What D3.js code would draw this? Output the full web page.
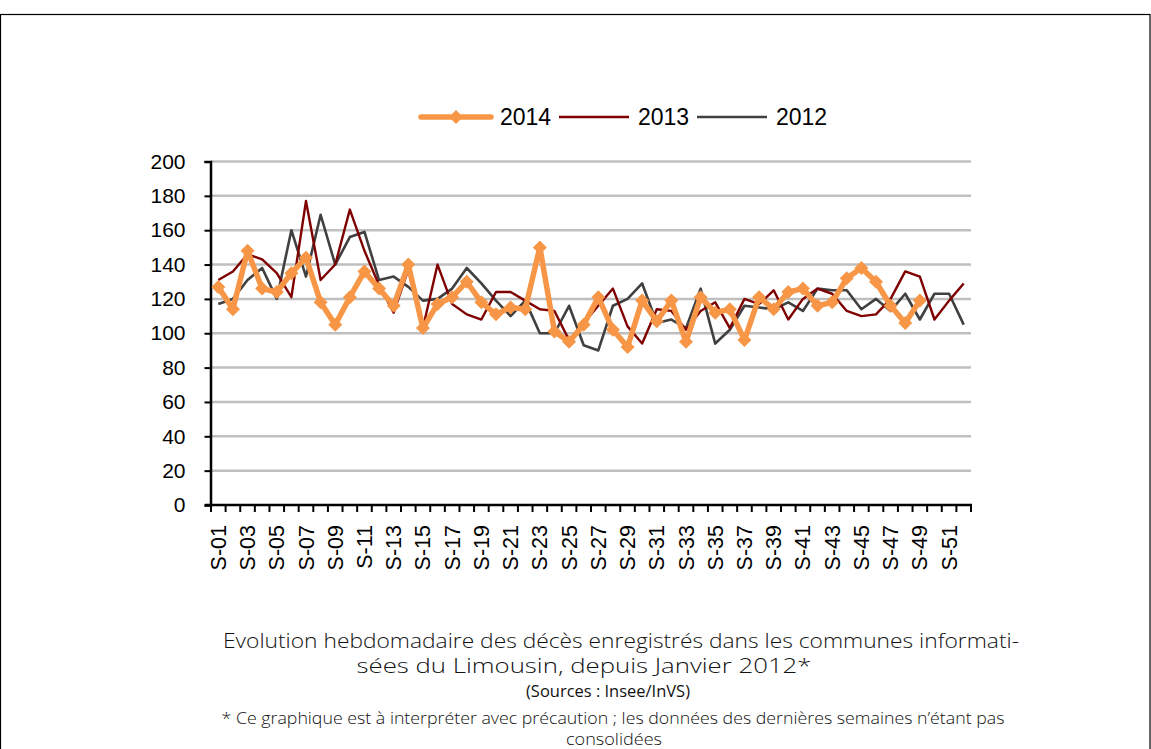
<!DOCTYPE html>
<html>
<head>
<meta charset="utf-8">
<script src="https://cdn.jsdelivr.net/npm/d3@7"></script>
<style>
  body { margin: 0; background: #fff; }
  svg { display: block; }
</style>
</head>
<body>
<script>
const weeks = ['S-01', 'S-02', 'S-03', 'S-04', 'S-05', 'S-06', 'S-07', 'S-08', 'S-09', 'S-10',
  'S-11', 'S-12', 'S-13', 'S-14', 'S-15', 'S-16', 'S-17', 'S-18', 'S-19', 'S-20',
  'S-21', 'S-22', 'S-23', 'S-24', 'S-25', 'S-26', 'S-27', 'S-28', 'S-29', 'S-30',
  'S-31', 'S-32', 'S-33', 'S-34', 'S-35', 'S-36', 'S-37', 'S-38', 'S-39', 'S-40',
  'S-41', 'S-42', 'S-43', 'S-44', 'S-45', 'S-46', 'S-47', 'S-48', 'S-49', 'S-50',
  'S-51', 'S-52']

const deaths2014 = [127, 114, 148, 126, 124, 135, 144, 118, 105, 121,
  136, 126, 116, 140, 103, 117, 121, 130, 118, 111,
  115, 114, 150, 101, 95, 105, 121, 102, 92, 119,
  107, 119, 95, 121, 112, 114, 96, 121, 114, 124,
  126, 116, 118, 132, 138, 130, 116, 106, 119]

const deaths2013 = [131, 136, 146, 143, 135, 121, 177, 131, 140, 172,
  148, 128, 112, 137, 103, 140, 117, 111, 108, 124,
  124, 119, 114, 113, 96, 106, 116, 126, 104, 94,
  114, 113, 102, 113, 118, 103, 120, 117, 125, 108,
  120, 126, 123, 113, 110, 111, 120, 136, 133, 108,
  119, 129]

const deaths2012 = [117, 120, 131, 138, 120, 160, 133, 169, 140, 156,
  159, 131, 133, 127, 119, 120, 126, 138, 129, 119,
  110, 119, 100, 100, 116, 93, 90, 116, 120, 129,
  106, 108, 103, 126, 94, 102, 116, 115, 114, 118,
  113, 126, 125, 125, 114, 120, 113, 123, 108, 123,
  123, 105]

const yTicks = [0, 20, 40, 60, 80, 100, 120, 140, 160, 180, 200]
const seriesNames = ['2014', '2013', '2012']
const seriesData = [deaths2014, deaths2013, deaths2012]
const seriesColors = ['#F79646', '#7F0000', '#404040']

const captionLines = [
  'Evolution hebdomadaire des décès enregistrés dans les communes informati-',
  'sées du Limousin, depuis Janvier  2012*'
]
const sourceLine = '(Sources : Insee/InVS)'
const noteLines = [
  '* Ce graphique est à interpréter avec précaution ; les données des dernières semaines n\u2019étant pas',
  'consolidées'
]

const width = 1151
const height = 749
const plot = { left: 211, right: 971, top: 161.5, bottom: 505 }

const svg = d3.select('body').append('svg')
  .attr('width', width)
  .attr('height', height)

// frame
svg.append('rect')
  .attr('x', 0.5).attr('y', 14.5)
  .attr('width', width - 1.5).attr('height', height)
  .attr('fill', 'none')
  .attr('stroke', '#000')
  .attr('stroke-width', 1.2)

const x = d3.scaleBand().domain(weeks).range([plot.left, plot.right])
const xc = d => x(d) + x.bandwidth() / 2
const y = d3.scaleLinear().domain([0, 200]).range([plot.bottom, plot.top])

// gridlines
svg.append('g')
  .selectAll('line')
  .data(yTicks.slice(1))
  .join('line')
    .attr('x1', plot.left)
    .attr('x2', plot.right)
    .attr('y1', d => y(d))
    .attr('y2', d => y(d))
    .style('stroke', '#bfbfbf')
    .style('stroke-width', 2.5)

// y axis
const yAxis = svg.append('g')
  .attr('transform', `translate(${plot.left - 0.5},0)`)
  .call(d3.axisLeft(y).tickValues(yTicks).tickSize(6).tickPadding(19))
yAxis.select('.domain').attr('stroke', '#000').attr('stroke-width', 2.5)
yAxis.selectAll('.tick line').attr('stroke', '#000').attr('stroke-width', 2)
yAxis.selectAll('text')
  .style('font-family', 'Liberation Sans, Arial, sans-serif')
  .style('font-size', '21px')
  .attr('fill', '#000')

// x axis: ticks on category boundaries, labels on odd weeks
const xAxis = svg.append('g').attr('transform', `translate(0,${plot.bottom})`)
xAxis.append('line')
  .attr('x1', plot.left - 6).attr('x2', plot.right + 1)
  .attr('stroke', '#000').attr('stroke-width', 2.5)
xAxis.selectAll('line.tick')
  .data(weeks.concat(['end']))
  .join('line')
    .attr('class', 'tick')
    .attr('x1', (d, i) => plot.left + i * x.step())
    .attr('x2', (d, i) => plot.left + i * x.step())
    .attr('y1', 0).attr('y2', 7)
    .attr('stroke', '#000').attr('stroke-width', 2)
xAxis.selectAll('text')
  .data(weeks.filter((d, i) => i % 2 === 0))
  .join('text')
    .attr('transform', d => `translate(${xc(d) + 7.5},${20}) rotate(-90)`)
    .attr('text-anchor', 'end')
    .style('font-family', 'Liberation Sans, Arial, sans-serif')
    .style('font-size', '21.5px')
    .text(d => d)

// series lines
const line = d3.line()
  .x((d, i) => xc(weeks[i]))
  .y(d => y(d))

const diamond = 'M0,-7L7,0L0,7L-7,0Z'

// draw 2012 first, then 2013, then 2014 on top
;[2, 1, 0].forEach(k => {
  svg.append('path')
    .datum(seriesData[k])
    .attr('d', line)
    .attr('fill', 'none')
    .attr('stroke', seriesColors[k])
    .attr('stroke-width', k === 0 ? 5.5 : (k === 1 ? 2.4 : 2.6))
    .attr('stroke-linejoin', 'round')
  if (k === 0) {
    svg.append('g')
      .selectAll('path')
      .data(seriesData[k])
      .join('path')
        .attr('d', diamond)
        .attr('transform', (d, i) => `translate(${xc(weeks[i])},${y(d)})`)
        .attr('fill', seriesColors[k])
  }
})

// legend
const legendX = [421, 559, 697]
const legend = svg.append('g').attr('transform', 'translate(0,117)')
seriesNames.forEach((name, k) => {
  const g = legend.append('g').attr('transform', `translate(${legendX[k]},0)`)
  g.append('line')
    .attr('x1', 0).attr('x2', 70)
    .attr('stroke', seriesColors[k])
    .attr('stroke-width', k === 0 ? 5.5 : (k === 1 ? 2.4 : 2.6))
    .attr('stroke-linecap', k === 0 ? 'round' : 'butt')
  if (k === 0) {
    g.append('path').attr('d', diamond).attr('transform', 'translate(35,0)').attr('fill', seriesColors[k])
  }
  g.append('text')
    .attr('x', 79).attr('y', 8)
    .style('font-family', 'Liberation Sans, Arial, sans-serif')
    .style('font-size', '23px')
    .text(name)
})

// caption
const cap = svg.append('g')
  .style('font-family', 'Open Sans, sans-serif')
  .style('font-weight', 300)
  .attr('fill', '#111')
  .attr('text-anchor', 'middle')
cap.append('text').attr('x', 621).attr('y', 648).style('font-size', '20px')
  .attr('textLength', 796).attr('lengthAdjust', 'spacingAndGlyphs').text(captionLines[0])
cap.append('text').attr('x', 584).attr('y', 673).style('font-size', '20px')
  .attr('textLength', 455).attr('lengthAdjust', 'spacingAndGlyphs').text(captionLines[1])
cap.append('text').attr('x', 608).attr('y', 697).style('font-size', '17px')
  .style('font-weight', 500)
  .attr('textLength', 164).attr('lengthAdjust', 'spacingAndGlyphs').text(sourceLine)
cap.append('text').attr('x', 613).attr('y', 724).style('font-size', '17px')
  .attr('textLength', 783).attr('lengthAdjust', 'spacingAndGlyphs').text(noteLines[0])
cap.append('text').attr('x', 614).attr('y', 745).style('font-size', '16px')
  .attr('textLength', 96).attr('lengthAdjust', 'spacingAndGlyphs').text(noteLines[1])
</script>
</body>
</html>
